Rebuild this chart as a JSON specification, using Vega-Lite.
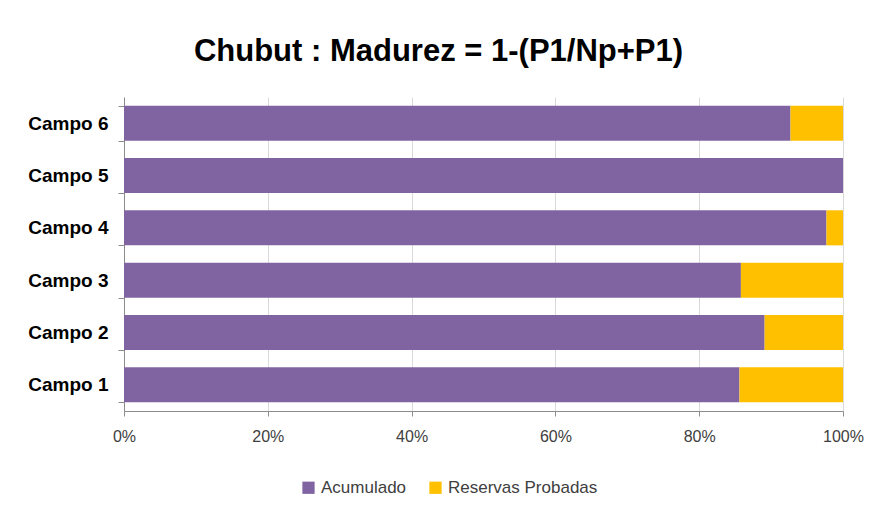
{
  "$schema": "https://vega.github.io/schema/vega-lite/v6.json",
  "autosize": "none",
  "width": 719,
  "height": 314,
  "padding": {"left": 124, "top": 97, "right": 36, "bottom": 104},
  "background": "white",
  "title": {
    "text": "Chubut : Madurez = 1-(P1/Np+P1)",
    "font": "Liberation Sans",
    "fontSize": 31,
    "fontWeight": "bold",
    "color": "#000000",
    "anchor": "middle",
    "dx": -45,
    "offset": 20
  },
  "data": {
    "values": [
      {"campo": "Campo 1", "serie": "Acumulado", "orden": 1, "valor": 85.6},
      {"campo": "Campo 1", "serie": "Reservas Probadas", "orden": 2, "valor": 14.4},
      {"campo": "Campo 2", "serie": "Acumulado", "orden": 1, "valor": 89.1},
      {"campo": "Campo 2", "serie": "Reservas Probadas", "orden": 2, "valor": 10.9},
      {"campo": "Campo 3", "serie": "Acumulado", "orden": 1, "valor": 85.8},
      {"campo": "Campo 3", "serie": "Reservas Probadas", "orden": 2, "valor": 14.2},
      {"campo": "Campo 4", "serie": "Acumulado", "orden": 1, "valor": 97.7},
      {"campo": "Campo 4", "serie": "Reservas Probadas", "orden": 2, "valor": 2.3},
      {"campo": "Campo 5", "serie": "Acumulado", "orden": 1, "valor": 100},
      {"campo": "Campo 5", "serie": "Reservas Probadas", "orden": 2, "valor": 0},
      {"campo": "Campo 6", "serie": "Acumulado", "orden": 1, "valor": 92.7},
      {"campo": "Campo 6", "serie": "Reservas Probadas", "orden": 2, "valor": 7.3}
    ]
  },
  "mark": {"type": "bar"},
  "encoding": {
    "y": {
      "field": "campo",
      "type": "nominal",
      "sort": "descending",
      "scale": {"paddingInner": 0.33, "paddingOuter": 0.165},
      "axis": {
        "title": null,
        "tickBand": "extent",
        "grid": false,
        "domainColor": "#8c8c8c",
        "tickColor": "#8c8c8c",
        "tickSize": 6,
        "labelFont": "Liberation Sans",
        "labelFontWeight": "bold",
        "labelFontSize": 19,
        "labelColor": "#000000",
        "labelPadding": 10
      }
    },
    "x": {
      "field": "valor",
      "type": "quantitative",
      "stack": "normalize",
      "scale": {"domain": [0, 1]},
      "axis": {
        "title": null,
        "format": ".0%",
        "values": [0, 0.2, 0.4, 0.6, 0.8, 1],
        "grid": true,
        "labelFlush": false,
        "gridColor": "#d9d9d9",
        "domainColor": "#8c8c8c",
        "tickColor": "#8c8c8c",
        "tickSize": 5,
        "labelFont": "Liberation Sans",
        "labelFontSize": 16,
        "labelColor": "#404040",
        "labelPadding": 12
      }
    },
    "color": {
      "field": "serie",
      "type": "nominal",
      "scale": {"domain": ["Acumulado", "Reservas Probadas"], "range": ["#8064a2", "#ffc000"]},
      "legend": {
        "title": null,
        "orient": "none",
        "direction": "horizontal",
        "legendX": 176,
        "legendY": 382,
        "symbolType": "square",
        "symbolSize": 150,
        "symbolStrokeWidth": 0,
        "labelFont": "Liberation Sans",
        "labelFontSize": 17,
        "labelColor": "#404040",
        "columnPadding": 20
      }
    },
    "order": {"field": "orden", "type": "quantitative"}
  },
  "config": {"view": {"stroke": null}}
}
